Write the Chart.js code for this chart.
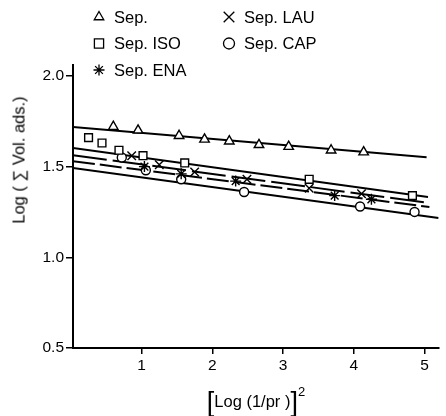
<!DOCTYPE html>
<html>
<head>
<meta charset="utf-8">
<script src="https://cdn.jsdelivr.net/npm/chart.js@4"></script>
<style>
  html,body{margin:0;padding:0;background:#fff;}
  #wrap{position:relative;width:446px;height:416px;overflow:hidden;}
  canvas{position:absolute;left:0;top:0;}
  .t{position:absolute;font-family:"Liberation Sans",Arial,sans-serif;color:#000;white-space:nowrap;}
  #ytitle{font-size:16.5px;left:19px;top:160px;transform:translate(-50%,-50%) rotate(-90deg);}
  #xtitle{font-size:16.5px;left:256px;top:401px;transform:translate(-50%,-50%);}
  #xtitle .br{font-size:27px;font-weight:300;vertical-align:-4px;}
  #xtitle sup{font-size:13px;vertical-align:11px;}
</style>
</head>
<body>
<div id="wrap">
  <canvas id="c" width="446" height="416"></canvas>
  <div class="t" id="ytitle">Log ( ∑ Vol. ads.)</div>
  <div class="t" id="xtitle"><span class="br">[</span>Log (1/pr )<span class="br">]</span><sup>2</sup></div>
</div>
<script>
// ---- data ----
const seriesNames = ["Sep.", "Sep. ISO", "Sep. ENA", "Sep. LAU", "Sep. CAP"];

const sepX = [0.60, 0.95, 1.53, 1.89, 2.24, 2.66, 3.08, 3.68, 4.14];
const sepY = [1.72, 1.70, 1.67, 1.65, 1.64, 1.62, 1.61, 1.59, 1.58];

const isoX = [0.25, 0.44, 0.68, 1.02, 1.61, 3.37, 4.83];
const isoY = [1.66, 1.63, 1.59, 1.56, 1.52, 1.43, 1.34];

const lauX = [0.86, 1.25, 1.75, 2.49, 3.37, 4.11];
const lauY = [1.56, 1.51, 1.47, 1.43, 1.38, 1.35];

const enaX = [1.04, 1.56, 2.33, 3.73, 4.25];
const enaY = [1.50, 1.46, 1.42, 1.34, 1.32];

const capX = [0.72, 1.06, 1.56, 2.45, 4.09, 4.86];
const capY = [1.55, 1.48, 1.43, 1.36, 1.28, 1.25];

// regression lines (end points)
const sepFitX = [0.03, 5.03]; const sepFitY = [1.718, 1.552];
const isoFitX = [0.03, 5.05]; const isoFitY = [1.602, 1.332];
const lauFitX = [0.03, 5.07]; const lauFitY = [1.563, 1.299];
const enaFitX = [0.03, 5.07]; const enaFitY = [1.530, 1.277];
const capFitX = [0.03, 5.20]; const capFitY = [1.492, 1.216];

const xTicks = [1, 2, 3, 4, 5];
const yTicks = [0.5, 1.0, 1.5, 2.0];

// ---- build ----
const pts = (xs, ys) => xs.map((x, i) => ({x: x, y: ys[i]}));
const FONT = '"Liberation Sans", Arial, sans-serif';
const markerRadius = {triangle: 5.5, rect: 5.5, star: 5.5, crossRot: 6, circle: 4.5};

function markerDs(label, xs, ys, style) {
  const r = markerRadius[style];
  return {
    label: label, data: pts(xs, ys), showLine: false,
    pointStyle: style, pointRadius: r, pointHoverRadius: r,
    pointBackgroundColor: '#fff', pointBorderColor: '#000', pointBorderWidth: 1.4,
    order: 0
  };
}
function lineDs(xs, ys, dash) {
  return {
    label: '', data: pts(xs, ys), showLine: true, pointRadius: 0,
    borderColor: '#000', borderWidth: 2, borderDash: dash, fill: false, order: 1
  };
}

const legendItems = [
  {text: seriesNames[0], style: 'triangle', col: 0, row: 0},
  {text: seriesNames[1], style: 'rect', col: 0, row: 1},
  {text: seriesNames[2], style: 'star', col: 0, row: 2},
  {text: seriesNames[3], style: 'crossRot', col: 1, row: 0},
  {text: seriesNames[4], style: 'circle', col: 1, row: 1}
];

const legendPlugin = {
  id: 'manualLegend',
  afterDraw(chart) {
    const ctx = chart.ctx;
    ctx.save();
    ctx.font = '16.5px ' + FONT;
    ctx.textBaseline = 'middle';
    legendItems.forEach(it => {
      const sx = it.col === 0 ? 99 : 229;
      const sy = 17 + it.row * 26.5;
      ctx.strokeStyle = '#000';
      ctx.fillStyle = '#fff';
      ctx.lineWidth = 1.3;
      const r = it.style === 'rect' ? 6.5 : (it.style === 'crossRot' ? 7.5 : 5.5);
      Chart.helpers.drawPoint(ctx, {pointStyle: it.style, radius: r, borderWidth: 1.3}, sx, sy);
      ctx.fillStyle = '#000';
      ctx.fillText(it.text, sx + 15, sy + 1);
    });
    ctx.restore();
  }
};

new Chart(document.getElementById('c'), {
  type: 'scatter',
  data: {
    datasets: [
      markerDs(seriesNames[0], sepX, sepY, 'triangle'),
      markerDs(seriesNames[1], isoX, isoY, 'rect'),
      markerDs(seriesNames[2], enaX, enaY, 'star'),
      markerDs(seriesNames[3], lauX, lauY, 'crossRot'),
      markerDs(seriesNames[4], capX, capY, 'circle'),
      lineDs(sepFitX, sepFitY, []),
      lineDs(isoFitX, isoFitY, []),
      lineDs(lauFitX, lauFitY, [34, 6]),
      lineDs(enaFitX, enaFitY, [22, 5]),
      lineDs(capFitX, capFitY, [])
    ]
  },
  options: {
    responsive: false,
    animation: false,
    layout: {padding: {top: 65, left: 0, right: 0, bottom: 0}},
    plugins: {legend: {display: false}, tooltip: {enabled: false}},
    scales: {
      x: {
        type: 'linear', min: 0.03, max: 5.2,
        afterBuildTicks: s => { s.ticks = xTicks.map(v => ({value: v})); },
        afterFit: s => { s.height = 68; },
        grid: {display: true, drawOnChartArea: false, drawTicks: true, tickLength: 6, color: '#000', lineWidth: 1.5},
        border: {display: true, color: '#000', width: 2},
        ticks: {color: '#000', font: {size: 15.5, family: FONT}, padding: 2, callback: v => String(v)}
      },
      y: {
        type: 'linear', min: 0.5, max: 2.06,
        afterBuildTicks: s => { s.ticks = yTicks.map(v => ({value: v})); },
        afterFit: s => { s.width = 73; },
        grid: {display: true, drawOnChartArea: false, drawTicks: true, tickLength: 7, color: '#000', lineWidth: 1.5},
        border: {display: true, color: '#000', width: 2},
        ticks: {color: '#000', font: {size: 15.5, family: FONT}, padding: 2, callback: v => Number(v).toFixed(1)}
      }
    }
  },
  plugins: [legendPlugin]
});
</script>
</body>
</html>
